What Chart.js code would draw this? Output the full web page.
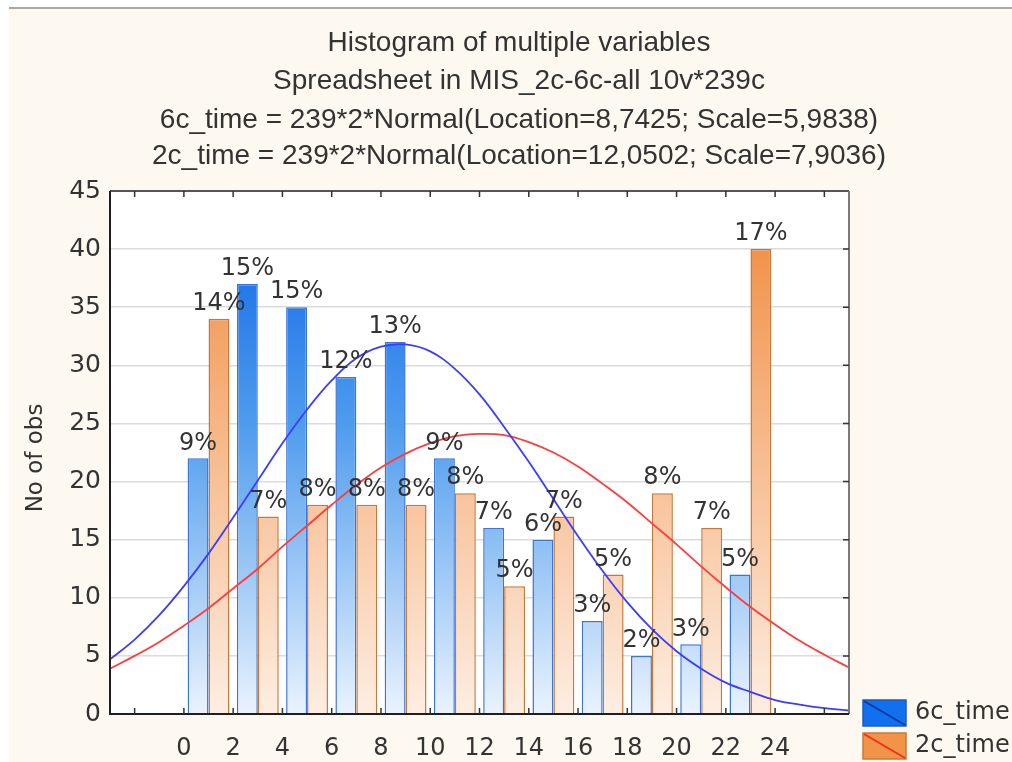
<!DOCTYPE html>
<html>
<head>
<meta charset="utf-8">
<script src="https://cdn.jsdelivr.net/npm/chart.js@4/dist/chart.umd.min.js"></script>
<style>
  html, body { margin: 0; padding: 0; background: #fff; }
  #wrap { width: 1012px; height: 762px; }
</style>
</head>
<body>
<div id="wrap"><canvas id="chart" width="1012" height="762"></canvas></div>
<script>
// data
const binCenters = [1, 3, 5, 7, 9, 11, 13, 15, 17, 19, 21, 23];
const sixC = [22, 37, 35, 29, 32, 22, 16, 15, 8, 5, 6, 12];
const twoC = [34, 17, 18, 18, 18, 19, 11, 17, 12, 19, 16, 40];
const sixCPct = ["9%", "15%", "15%", "12%", "13%", "9%", "7%", "6%", "3%", "2%", "3%", "5%"];
const twoCPct = ["14%", "7%", "8%", "8%", "8%", "8%", "5%", "7%", "5%", "8%", "7%", "17%"];

// fitted normal curves, read at each unit of x
const curveX = [-3, -2, -1, 0, 1, 2, 3, 4, 5, 6, 7, 8, 9, 10, 11, 12, 13, 14, 15,
  16, 17, 18, 19, 20, 21, 22, 23, 24, 25, 26, 27];
const sixCCurve = [4.7, 6.4, 8.5, 11.0, 13.8, 16.9, 20.1, 23.3, 26.2, 28.7, 30.6, 31.6, 31.8,
  31.2, 29.7, 27.5, 24.7, 21.7, 18.5, 15.3, 12.3, 9.6, 7.3, 5.4, 3.9, 2.7, 1.9, 1.2, 0.8, 0.5, 0.3];
const twoCCurve = [3.9, 5.0, 6.2, 7.6, 9.1, 10.8, 12.5, 14.4, 16.2, 18.0, 19.7, 21.2, 22.4,
  23.3, 23.9, 24.1, 24.0, 23.4, 22.5, 21.3, 19.8, 18.2, 16.4, 14.6, 12.7, 10.9, 9.2, 7.7, 6.3, 5.1, 4.0];

const xTickLabels = [0, 2, 4, 6, 8, 10, 12, 14, 16, 18, 20, 22, 24];
const xTickMarks = [-2, 0, 2, 4, 6, 8, 10, 12, 14, 16, 18, 20, 22, 24, 26];

const titleLines = [
  "Histogram of multiple variables",
  "Spreadsheet in MIS_2c-6c-all 10v*239c",
  "6c_time = 239*2*Normal(Location=8,7425; Scale=5,9838)",
  "2c_time = 239*2*Normal(Location=12,0502; Scale=7,9036)"
];
const seriesNames = ["6c_time", "2c_time"];

const TXT = "#333";
const TICK_FONT = "DejaVu Sans";

function vGrad(ctx, stops) {
  const { chart } = ctx;
  const area = chart.chartArea;
  if (!area) return stops[0][1];
  const g = chart.ctx.createLinearGradient(0, area.top, 0, area.bottom);
  stops.forEach(([p, c]) => g.addColorStop(p, c));
  return g;
}

const pts = (xs, ys) => xs.map((x, i) => ({ x, y: ys[i] }));

// background, frame, inner ticks, titles, legend, % labels
const decor = {
  id: "decor",
  beforeDraw(chart) {
    const { ctx, chartArea: a, width, height } = chart;
    ctx.save();
    ctx.fillStyle = "#fff";
    ctx.fillRect(0, 0, width, height);
    ctx.fillStyle = "#fdf8f0";
    ctx.fillRect(9, 9, width - 9, height - 9);
    ctx.fillStyle = "#a9a8a2";
    ctx.fillRect(9, 7, width - 9, 2);
    ctx.fillStyle = "#fff";
    ctx.fillRect(a.left, a.top, a.right - a.left, a.bottom - a.top);
    ctx.restore();
  },
  afterDatasetsDraw(chart) {
    const { ctx } = chart;
    ctx.save();
    ctx.font = "24px '" + TICK_FONT + "'";
    ctx.fillStyle = TXT;
    ctx.textAlign = "center";
    ctx.textBaseline = "bottom";
    [sixCPct, twoCPct].forEach((labels, di) => {
      const meta = chart.getDatasetMeta(di);
      meta.data.forEach((bar, i) => {
        ctx.fillText(labels[i], bar.x, bar.y - 3);
      });
    });
    ctx.restore();
  },
  afterDraw(chart) {
    const { ctx, chartArea: a, scales } = chart;
    ctx.save();
    // frame
    ctx.lineWidth = 2;
    ctx.strokeStyle = "#555";
    ctx.beginPath(); ctx.moveTo(a.left, a.top); ctx.lineTo(a.right, a.top); ctx.stroke();
    ctx.strokeStyle = "#7a7a7a";
    ctx.beginPath(); ctx.moveTo(a.right, a.top); ctx.lineTo(a.right, a.bottom); ctx.stroke();
    ctx.strokeStyle = "#1e1e1e";
    ctx.beginPath(); ctx.moveTo(a.left, a.top); ctx.lineTo(a.left, a.bottom); ctx.lineTo(a.right, a.bottom); ctx.stroke();
    // inward ticks
    ctx.lineWidth = 1.5;
    ctx.strokeStyle = "#333";
    ctx.beginPath();
    xTickMarks.forEach(v => {
      const x = scales.x.getPixelForValue(v);
      ctx.moveTo(x, a.bottom); ctx.lineTo(x, a.bottom - 6);
      ctx.moveTo(x, a.top); ctx.lineTo(x, a.top + 6);
    });
    for (let v = 5; v < 45; v += 5) {
      const y = scales.y.getPixelForValue(v);
      ctx.moveTo(a.right, y); ctx.lineTo(a.right - 6, y);
    }
    ctx.stroke();

    // titles
    ctx.fillStyle = TXT;
    ctx.textAlign = "center";
    ctx.textBaseline = "middle";
    ctx.font = "28px 'Liberation Sans'";
    const ty = [43, 81, 120, 156];
    titleLines.forEach((t, i) => ctx.fillText(t, 519, ty[i]));

    // y title
    ctx.save();
    ctx.translate(36, 458);
    ctx.rotate(-Math.PI / 2);
    ctx.font = "23px '" + TICK_FONT + "'";
    ctx.fillText("No of obs", 0, 0);
    ctx.restore();

    // legend
    const boxes = [
      { y: 700, fill: "#1170ee", edge: "#1a5cc4", diag: "#0a3aa0" },
      { y: 733, fill: "#f29448", edge: "#c9783a", diag: "#f0301c" }
    ];
    boxes.forEach((b, i) => {
      ctx.fillStyle = b.fill;
      ctx.fillRect(863, b.y, 43, 26);
      ctx.lineWidth = 1.5;
      ctx.strokeStyle = b.edge;
      ctx.strokeRect(863, b.y, 43, 26);
      ctx.strokeStyle = b.diag;
      ctx.lineWidth = 2;
      ctx.beginPath(); ctx.moveTo(864, b.y + 1); ctx.lineTo(905, b.y + 25); ctx.stroke();
      ctx.fillStyle = TXT;
      ctx.textAlign = "left";
      ctx.font = "24px '" + TICK_FONT + "'";
      ctx.fillText(seriesNames[i], 915, b.y + 13);
    });
    ctx.restore();
  }
};

new Chart(document.getElementById("chart"), {
  type: "bar",
  data: {
    datasets: [
      {
        label: seriesNames[0],
        data: pts(binCenters, sixC),
        backgroundColor: ctx => vGrad(ctx, [[0, "#0862e6"], [0.45, "#4f9cee"], [1, "#eaf3fd"]]),
        borderColor: "#3a74dc",
        borderWidth: 1.5,
        categoryPercentage: 0.85,
        barPercentage: 1.0,
        order: 2
      },
      {
        label: seriesNames[1],
        data: pts(binCenters, twoC),
        backgroundColor: ctx => vGrad(ctx, [[0, "#f0883a"], [1, "#fdeee2"]]),
        borderColor: "#c9783a",
        borderWidth: 1.5,
        categoryPercentage: 0.85,
        barPercentage: 1.0,
        order: 2
      },
      {
        type: "line",
        label: "fit 6c",
        data: pts(curveX, sixCCurve),
        borderColor: "#3c3cff",
        borderWidth: 1.8,
        pointRadius: 0,
        tension: 0.4,
        fill: false,
        order: 1
      },
      {
        type: "line",
        label: "fit 2c",
        data: pts(curveX, twoCCurve),
        borderColor: "#ff3c3c",
        borderWidth: 1.8,
        pointRadius: 0,
        tension: 0.4,
        fill: false,
        order: 1
      }
    ]
  },
  options: {
    responsive: false,
    animation: false,
    layout: { padding: { top: 191, right: 163, bottom: 0, left: 0 } },
    plugins: {
      legend: { display: false },
      title: { display: false },
      tooltip: { enabled: false }
    },
    scales: {
      x: {
        type: "linear",
        min: -3,
        max: 27,
        offset: false,
        afterBuildTicks: s => { s.ticks = xTickLabels.map(v => ({ value: v })); },
        afterFit: s => { s.height = 48; },
        grid: { display: false, drawTicks: false, offset: false },
        border: { display: false },
        ticks: {
          autoSkip: false,
          maxRotation: 0,
          padding: 20,
          color: TXT,
          font: { family: TICK_FONT, size: 24 }
        }
      },
      y: {
        min: 0,
        max: 45,
        afterFit: s => { s.width = 110; },
        grid: {
          drawTicks: false,
          color: c => (c.tick.value === 0 || c.tick.value === 45) ? "rgba(0,0,0,0)" : "#dcdcdc",
          lineWidth: 1.5
        },
        border: { display: false },
        ticks: {
          stepSize: 5,
          padding: 9,
          color: TXT,
          font: { family: TICK_FONT, size: 25 }
        }
      }
    }
  },
  plugins: [decor]
});
</script>
</body>
</html>
